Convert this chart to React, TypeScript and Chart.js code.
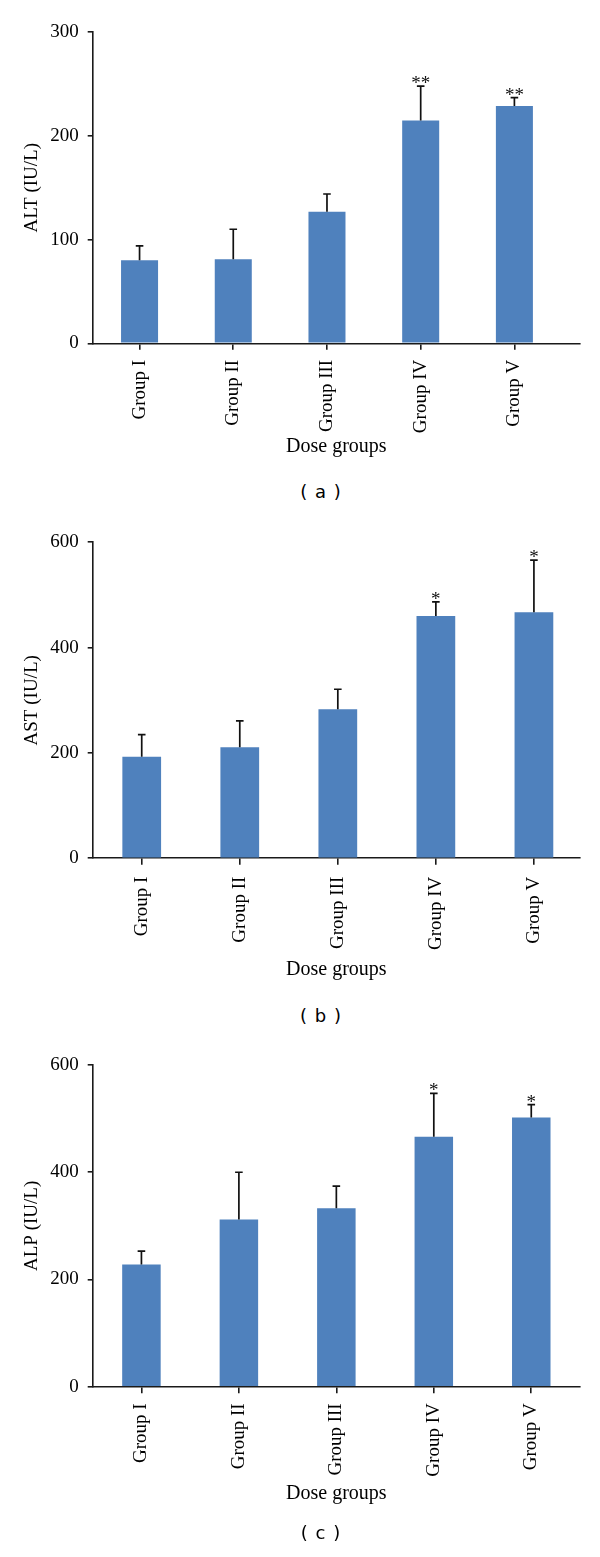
import React, { useEffect, useRef } from "react";
import { Chart, registerables } from "chart.js";

Chart.register(...registerables);

// ---------- data ----------
const categories = ["Group I", "Group II", "Group III", "Group IV", "Group V"];

const altMeans = [80, 81, 127, 215, 229];
const altSD = [14, 29, 17, 33, 8];
const altSig = ["", "", "", "**", "**"];
const altTicks = [0, 100, 200, 300];

const astMeans = [193, 211, 283, 460, 467];
const astSD = [42, 50, 38, 27, 99];
const astSig = ["", "", "", "*", "*"];
const astTicks = [0, 200, 400, 600];

const alpMeans = [228, 312, 333, 466, 502];
const alpSD = [25, 88, 41, 81, 24];
const alpSig = ["", "", "", "*", "*"];
const alpTicks = [0, 200, 400, 600];

const yTitles = ["ALT (IU/L)", "AST (IU/L)", "ALP (IU/L)"];
const xTitle = "Dose groups";
const panelLabels = ["( a )", "( b )", "( c )"];

const SERIF = "'Liberation Serif', 'Times New Roman', serif";

const errorBarPlugin = {
  id: "errbars",
  afterDatasetsDraw(chart: any, _args: any, opts: any) {
    const { ctx } = chart;
    const x = chart.scales.x;
    const y = chart.scales.y;
    const { means, sds, sig } = opts;
    ctx.save();
    ctx.strokeStyle = "#111";
    ctx.fillStyle = "#111";
    ctx.lineWidth = 1.7;
    means.forEach((m: number, i: number) => {
      const px = x.getPixelForValue(i);
      const y0 = y.getPixelForValue(m);
      const y1 = y.getPixelForValue(m + sds[i]);
      ctx.beginPath();
      ctx.moveTo(px, y0);
      ctx.lineTo(px, y1);
      ctx.moveTo(px - 3.8, y1);
      ctx.lineTo(px + 3.8, y1);
      ctx.stroke();
      if (sig[i]) {
        ctx.font = `19px ${SERIF}`;
        ctx.textAlign = "center";
        ctx.textBaseline = "alphabetic";
        ctx.fillText(sig[i], px, y1 + 3);
      }
    });
    ctx.restore();
  },
};

type PanelProps = {
  means: number[];
  sds: number[];
  sig: string[];
  yTicks: number[];
  yTitle: string;
  label: string;
  canvasTop: number;
  canvasH: number;
  areaTop: number;
  areaBottom: number;
  tickPad: number;
  titleCenter: number;
  xMax: number;
  labelY: number;
};

function Panel(p: PanelProps) {
  const ref = useRef<HTMLCanvasElement | null>(null);
  useEffect(() => {
    if (!ref.current) return;
    const axisColor = "#1a1a1a";
    const tickFont = { family: SERIF, size: 19 };
    const xHeight = p.canvasH - (p.areaBottom - p.canvasTop);
    const titleOffset = p.canvasTop + p.canvasH - p.titleCenter;
    const chart = new Chart(ref.current, {
      type: "bar",
      data: {
        datasets: [
          {
            data: categories.map((_, i) => ({ x: i, y: p.means[i] })),
            backgroundColor: "#4f81bd",
            borderWidth: 0,
            barPercentage: 0.395,
            categoryPercentage: 1,
          },
        ],
      },
      plugins: [errorBarPlugin],
      options: {
        animation: false,
        responsive: false,
        events: [],
        layout: {
          padding: { top: p.areaTop - p.canvasTop, right: 20, bottom: 0, left: 0 },
        },
        plugins: {
          legend: { display: false },
          tooltip: { enabled: false },
          // @ts-ignore
          errbars: { means: p.means, sds: p.sds, sig: p.sig },
        },
        scales: {
          x: {
            type: "linear",
            offset: false,
            min: -0.5,
            max: p.xMax,
            afterBuildTicks: (s: any) => {
              s.ticks = categories.map((_, i) => ({ value: i }));
            },
            afterFit: (s: any) => {
              s.height = xHeight;
            },
            ticks: {
              minRotation: 90,
              maxRotation: 90,
              autoSkip: false,
              padding: p.tickPad,
              color: "#000",
              font: tickFont,
              callback: (v: any) => categories[v as number],
            },
            grid: {
              display: true,
              offset: false,
              drawOnChartArea: false,
              drawTicks: true,
              tickLength: 6.5,
              color: axisColor,
              lineWidth: 1.6,
            },
            border: { display: true, color: axisColor, width: 1.6 },
            title: {
              display: true,
              text: xTitle,
              color: "#000",
              font: { family: SERIF, size: 20 },
              padding: { top: 0, bottom: titleOffset - 12 },
            },
          },
          y: {
            min: p.yTicks[0],
            max: p.yTicks[p.yTicks.length - 1],
            afterBuildTicks: (s: any) => {
              s.ticks = p.yTicks.map((v) => ({ value: v }));
            },
            afterFit: (s: any) => {
              s.width = 92.7;
            },
            ticks: {
              padding: 9,
              color: "#000",
              font: tickFont,
            },
            grid: {
              display: true,
              drawOnChartArea: false,
              drawTicks: true,
              tickLength: 5,
              color: axisColor,
              lineWidth: 1.6,
            },
            border: { display: true, color: axisColor, width: 1.6 },
            title: {
              display: true,
              text: p.yTitle,
              color: "#000",
              font: { family: SERIF, size: 19 },
              padding: { top: 32 - 11.4, bottom: 0 },
            },
          },
        },
      } as any,
    });
    return () => chart.destroy();
  }, []);
  return (
    <>
      <canvas
        ref={ref}
        width={600}
        height={p.canvasH}
        style={{ position: "absolute", left: 0, top: p.canvasTop, width: 600, height: p.canvasH }}
      />
      <div
        style={{
          position: "absolute",
          left: 321,
          top: p.labelY,
          transform: "translate(-50%, -50%)",
          fontFamily: "'DejaVu Sans', sans-serif",
          fontSize: 18,
          letterSpacing: 1,
          whiteSpace: "pre",
          color: "#000",
          lineHeight: 1,
        }}
      >
        {p.label}
      </div>
    </>
  );
}

export default function App() {
  return (
    <div style={{ position: "absolute", left: 0, top: 0, width: 600, height: 1557, background: "#fff" }}>
      <Panel
        means={altMeans}
        sds={altSD}
        sig={altSig}
        yTicks={altTicks}
        yTitle={yTitles[0]}
        label={panelLabels[0]}
        canvasTop={0}
        canvasH={470}
        areaTop={32.3}
        areaBottom={343.3}
        tickPad={10}
        titleCenter={447}
        xMax={4.7}
        labelY={491.7}
      />
      <Panel
        means={astMeans}
        sds={astSD}
        sig={astSig}
        yTicks={astTicks}
        yTitle={yTitles[1]}
        label={panelLabels[1]}
        canvasTop={505}
        canvasH={495}
        areaTop={542.3}
        areaBottom={858.3}
        tickPad={11.9}
        titleCenter={970}
        xMax={4.47}
        labelY={1016}
      />
      <Panel
        means={alpMeans}
        sds={alpSD}
        sig={alpSig}
        yTicks={alpTicks}
        yTitle={yTitles[2]}
        label={panelLabels[2]}
        canvasTop={1030}
        canvasH={500}
        areaTop={1065}
        areaBottom={1386.7}
        tickPad={10.1}
        titleCenter={1493.3}
        xMax={4.5}
        labelY={1533}
      />
    </div>
  );
}
